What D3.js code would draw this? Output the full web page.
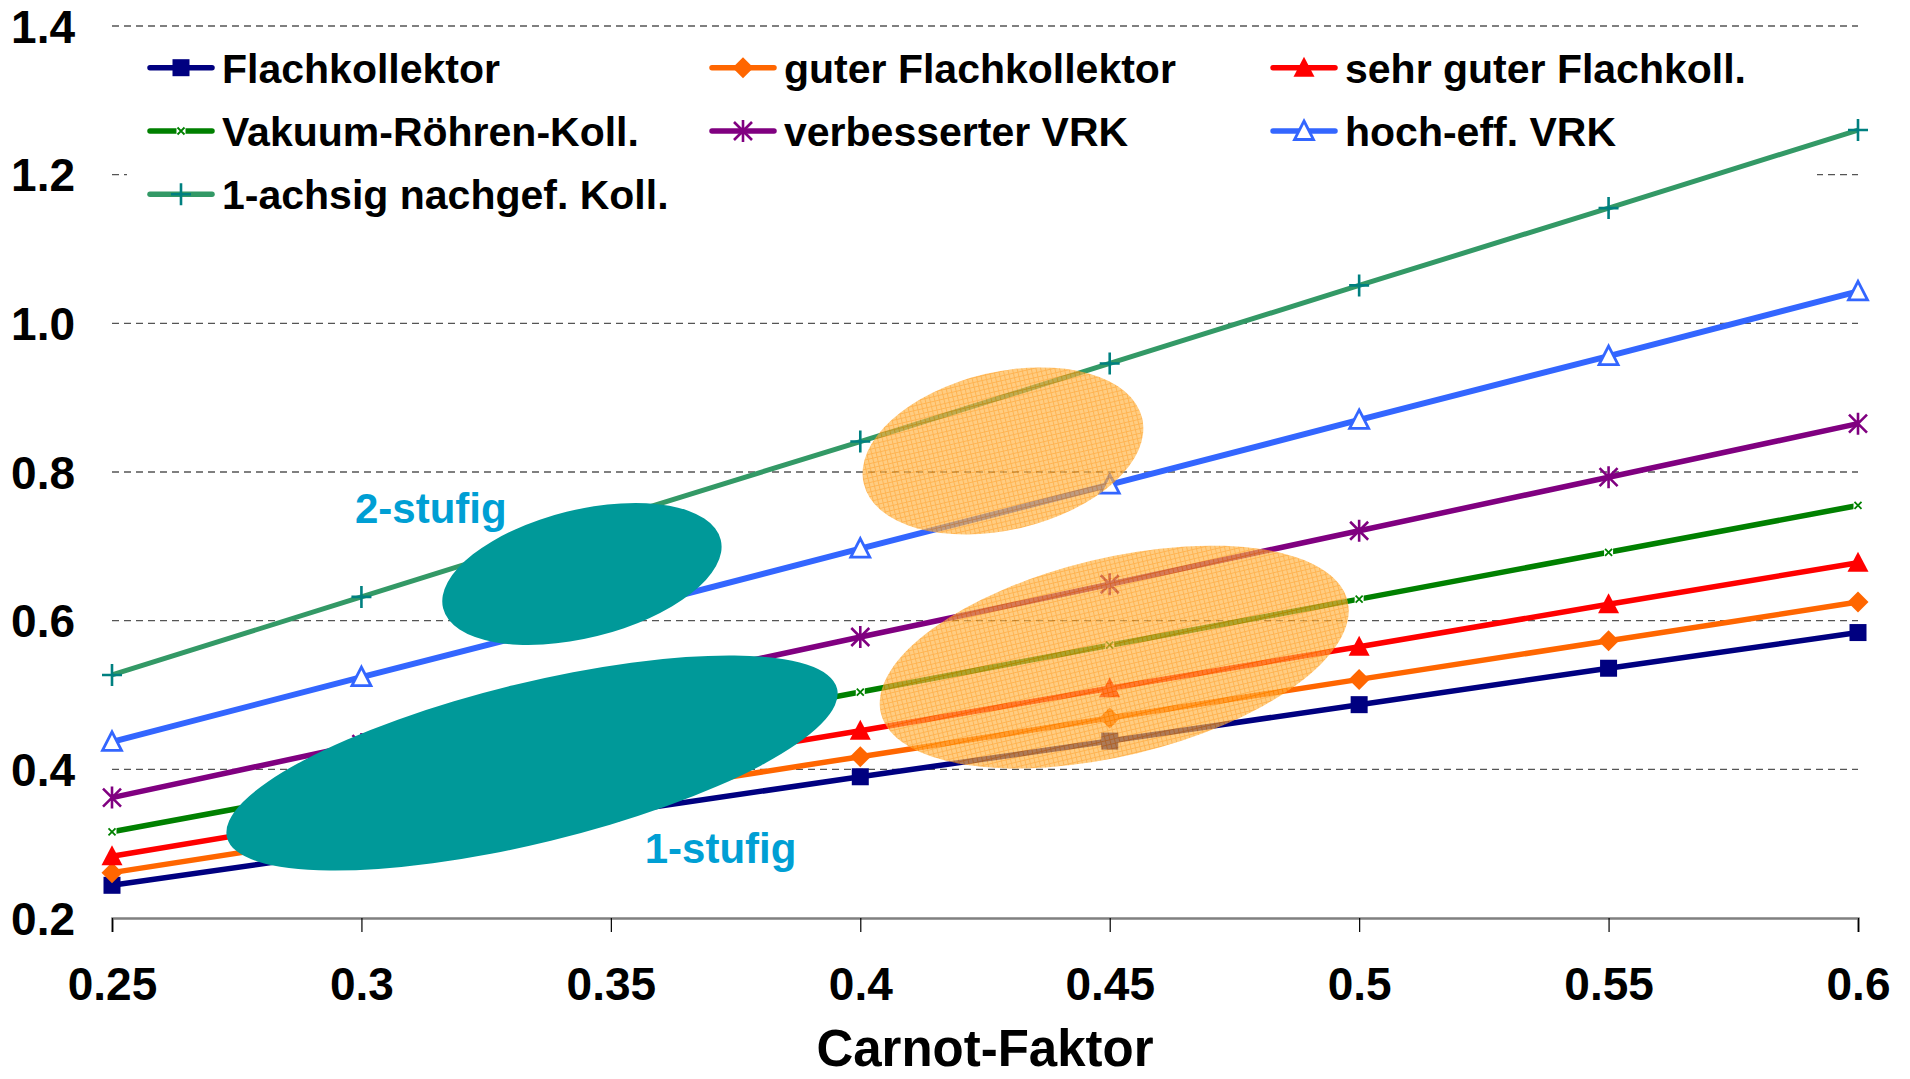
<!DOCTYPE html>
<html><head><meta charset="utf-8">
<script src="https://cdn.jsdelivr.net/npm/d3@7"></script>
<style>
body{margin:0;background:#fff}
svg{display:block}
text{font-family:"Liberation Sans",Arial,Helvetica,sans-serif;font-weight:bold}
</style>
</head><body>
<svg id="chart" width="1910" height="1079"></svg>
<script>
// ---- data ----
const carnot = [0.25, 0.3, 0.35, 0.4, 0.45, 0.5, 0.55, 0.6];
const xTickLabels = ["0.25", "0.3", "0.35", "0.4", "0.45", "0.5", "0.55", "0.6"];
const yTicks = [0.2, 0.4, 0.6, 0.8, 1.0, 1.2, 1.4];
const yTickLabels = ["0.2", "0.4", "0.6", "0.8", "1.0", "1.2", "1.4"];
const xTitle = "Carnot-Faktor";

const seriesNames = ["Flachkollektor", "guter Flachkollektor", "sehr guter Flachkoll.",
  "Vakuum-Röhren-Koll.", "verbesserter VRK", "hoch-eff. VRK", "1-achsig nachgef. Koll."];
const flachkollektor   = [0.244, 0.292, 0.341, 0.390, 0.438, 0.487, 0.536, 0.584];
const guterFlach       = [0.261, 0.313, 0.365, 0.417, 0.469, 0.521, 0.573, 0.625];
const sehrGuterFlach   = [0.283, 0.339, 0.396, 0.452, 0.509, 0.565, 0.622, 0.678];
const vakuumRoehren    = [0.316, 0.378, 0.441, 0.504, 0.567, 0.629, 0.692, 0.755];
const verbesserterVRK  = [0.362, 0.434, 0.506, 0.578, 0.649, 0.721, 0.793, 0.865];
const hochEffVRK       = [0.437, 0.524, 0.610, 0.697, 0.783, 0.870, 0.956, 1.043];
const einachsig        = [0.527, 0.632, 0.737, 0.841, 0.946, 1.051, 1.155, 1.260];
const seriesValues = [flachkollektor, guterFlach, sehrGuterFlach, vakuumRoehren, verbesserterVRK, hochEffVRK, einachsig];

// annotation regions (centre in data units)
const regionNames = ["2-stufig A", "1-stufig A", "solar B", "solar C"];
const regionCarnot = [0.3442, 0.3342, 0.4286, 0.4509];
const regionValue  = [0.6628, 0.4085, 0.8283, 0.5511];
const stageLabels = ["2-stufig", "1-stufig"];
const stageLabelCarnot = [0.2987, 0.3568];
const stageLabelValue  = [0.7314, 0.274];

// ---- styles / layout ----
const seriesStyle = [
  {color:"#000080", mcolor:"#000080", w:5.5, marker:"square"},
  {color:"#FF6600", mcolor:"#FF6600", w:5.5, marker:"diamond"},
  {color:"#FF0000", mcolor:"#FF0000", w:5.5, marker:"triangle"},
  {color:"#008000", mcolor:"#008000", w:5.5, marker:"xsmall"},
  {color:"#800080", mcolor:"#800080", w:5.5, marker:"asterisk"},
  {color:"#3366FF", mcolor:"#3366FF", w:6,   marker:"opentri"},
  {color:"#339966", mcolor:"#008080", w:5,   marker:"plus"}
];
const regionStyle = [
  {fill:"#009999", rx:143, ry:64, rot:-13.9, hatch:false},
  {fill:"#009999", rx:314, ry:80, rot:-13.7, hatch:false},
  {fill:"url(#hatch)", rx:143, ry:79, rot:-13.2, hatch:true},
  {fill:"url(#hatch)", rx:240, ry:99, rot:-13.5, hatch:true}
];

const svg = d3.select("#chart");
const x = d3.scaleLinear().domain([0.25, 0.6]).range([112, 1858]);
const y = d3.scaleLinear().domain([0.2, 1.4]).range([918, 26]);

const defs = svg.append("defs");
const pat = defs.append("pattern").attr("id","hatch").attr("patternUnits","userSpaceOnUse")
  .attr("width",4.6).attr("height",4.6);
pat.append("rect").attr("width",4.6).attr("height",4.6).attr("fill","#FFB547");
pat.append("path").attr("d","M0 0.5H4.6M0.5 0V4.6").attr("stroke","#FF9000").attr("stroke-width",1);

// gridlines
svg.append("g").selectAll("line").data(yTicks.filter(v => v > 0.2)).join("line")
  .attr("x1", x(0.25)).attr("x2", x(0.6))
  .attr("y1", d => y(d)).attr("y2", d => y(d))
  .attr("stroke","#555").attr("stroke-width",1.3).attr("stroke-dasharray","7,5");

// legend background (covers gridlines, beneath series)
svg.append("rect").attr("x",127).attr("y",34).attr("width",1690).attr("height",192).attr("fill","#fff");

// x axis
const xAxis = d3.axisBottom(x).tickValues(carnot).tickSize(14).tickFormat((d,i) => xTickLabels[i]);
const gx = svg.append("g").attr("transform","translate(0,918)").call(xAxis);
gx.select(".domain").attr("stroke","#808080").attr("stroke-width",2.5);
gx.selectAll(".tick line").attr("stroke","#000").attr("stroke-width",1.2);
gx.selectAll(".tick text").attr("font-size",46).attr("fill","#000")
  .attr("font-family",'"Liberation Sans",Arial,sans-serif').attr("font-weight","bold")
  .attr("dy",null).attr("y", 82);

// y axis labels
const yAxis = d3.axisLeft(y).tickValues(yTicks).tickSize(0).tickFormat((d,i) => yTickLabels[i]);
const gy = svg.append("g").attr("transform","translate(75,0)").call(yAxis);
gy.select(".domain").remove();
gy.selectAll(".tick text").attr("font-size",46).attr("fill","#000").attr("x",0).attr("dy","0.35em")
  .attr("font-family",'"Liberation Sans",Arial,sans-serif').attr("font-weight","bold");

// axis title
svg.append("text").attr("x",(x(0.25)+x(0.6))/2).attr("y",1066).attr("text-anchor","middle")
  .attr("font-size",51).text(xTitle);

// markers
function drawMarker(g, type, cx, cy, color){
  if(type==="square"){
    g.append("rect").attr("x",cx-8.5).attr("y",cy-8.5).attr("width",17).attr("height",17).attr("fill",color);
  } else if(type==="diamond"){
    g.append("path").attr("d",`M${cx},${cy-10.5}L${cx+10.5},${cy}L${cx},${cy+10.5}L${cx-10.5},${cy}Z`).attr("fill",color);
  } else if(type==="triangle"){
    g.append("path").attr("d",`M${cx},${cy-11}L${cx+10.5},${cy+9}L${cx-10.5},${cy+9}Z`).attr("fill",color);
  } else if(type==="opentri"){
    g.append("path").attr("d",`M${cx},${cy-10}L${cx+9.5},${cy+8.5}L${cx-9.5},${cy+8.5}Z`)
      .attr("fill","#fff").attr("stroke",color).attr("stroke-width",2.8);
  } else if(type==="xsmall"){
    g.append("rect").attr("x",cx-4.5).attr("y",cy-4.5).attr("width",9).attr("height",9).attr("fill","#fff");
    g.append("path").attr("d",`M${cx-3.5},${cy-3.5}L${cx+3.5},${cy+3.5}M${cx+3.5},${cy-3.5}L${cx-3.5},${cy+3.5}`)
      .attr("stroke",color).attr("stroke-width",1.8);
  } else if(type==="asterisk"){
    g.append("path").attr("d",`M${cx-9},${cy-9}L${cx+9},${cy+9}M${cx+9},${cy-9}L${cx-9},${cy+9}M${cx},${cy-11}L${cx},${cy+11}`)
      .attr("stroke",color).attr("stroke-width",2.6);
  } else if(type==="plus"){
    g.append("path").attr("d",`M${cx-10},${cy}L${cx+10},${cy}M${cx},${cy-11}L${cx},${cy+11}`)
      .attr("stroke",color).attr("stroke-width",2.6);
  }
}

// series
const line = d3.line().x((d,i) => x(carnot[i])).y(d => y(d));
seriesValues.forEach((vals, s) => {
  const st = seriesStyle[s];
  const g = svg.append("g");
  g.append("path").datum(vals).attr("d", line).attr("fill","none")
    .attr("stroke", st.color).attr("stroke-width", st.w).attr("stroke-linejoin","round");
  vals.forEach((v,i) => drawMarker(g, st.marker, x(carnot[i]), y(v), st.mcolor));
});

// regions (ellipses)
regionNames.forEach((n,i) => {
  const st = regionStyle[i];
  const cx = x(regionCarnot[i]), cy = y(regionValue[i]);
  svg.append("ellipse").attr("cx",cx).attr("cy",cy).attr("rx",st.rx).attr("ry",st.ry)
    .attr("transform",`rotate(${st.rot},${cx},${cy})`)
    .attr("fill",st.fill).attr("opacity", st.hatch ? 0.68 : 1);
});

// stage labels
stageLabels.forEach((t,i) => {
  svg.append("text").attr("x", x(stageLabelCarnot[i])).attr("y", y(stageLabelValue[i]))
    .attr("font-size",42).attr("fill","#009FD4").text(t);
});

// legend
const legCols = [150, 712, 1273];
const legRows = [67.7, 131, 194.3];
seriesNames.forEach((name, s) => {
  const col = s % 3, row = Math.floor(s / 3);
  const lx = legCols[col], ly = legRows[row];
  const st = seriesStyle[s];
  const g = svg.append("g");
  g.append("line").attr("x1",lx).attr("x2",lx+62).attr("y1",ly).attr("y2",ly)
    .attr("stroke",st.color).attr("stroke-width",5.5).attr("stroke-linecap","round");
  drawMarker(g, st.marker, lx+31, ly, st.mcolor);
  g.append("text").attr("x",lx+72).attr("y",ly+15).attr("font-size",41).attr("fill","#000").text(name);
});
</script>
</body></html>
